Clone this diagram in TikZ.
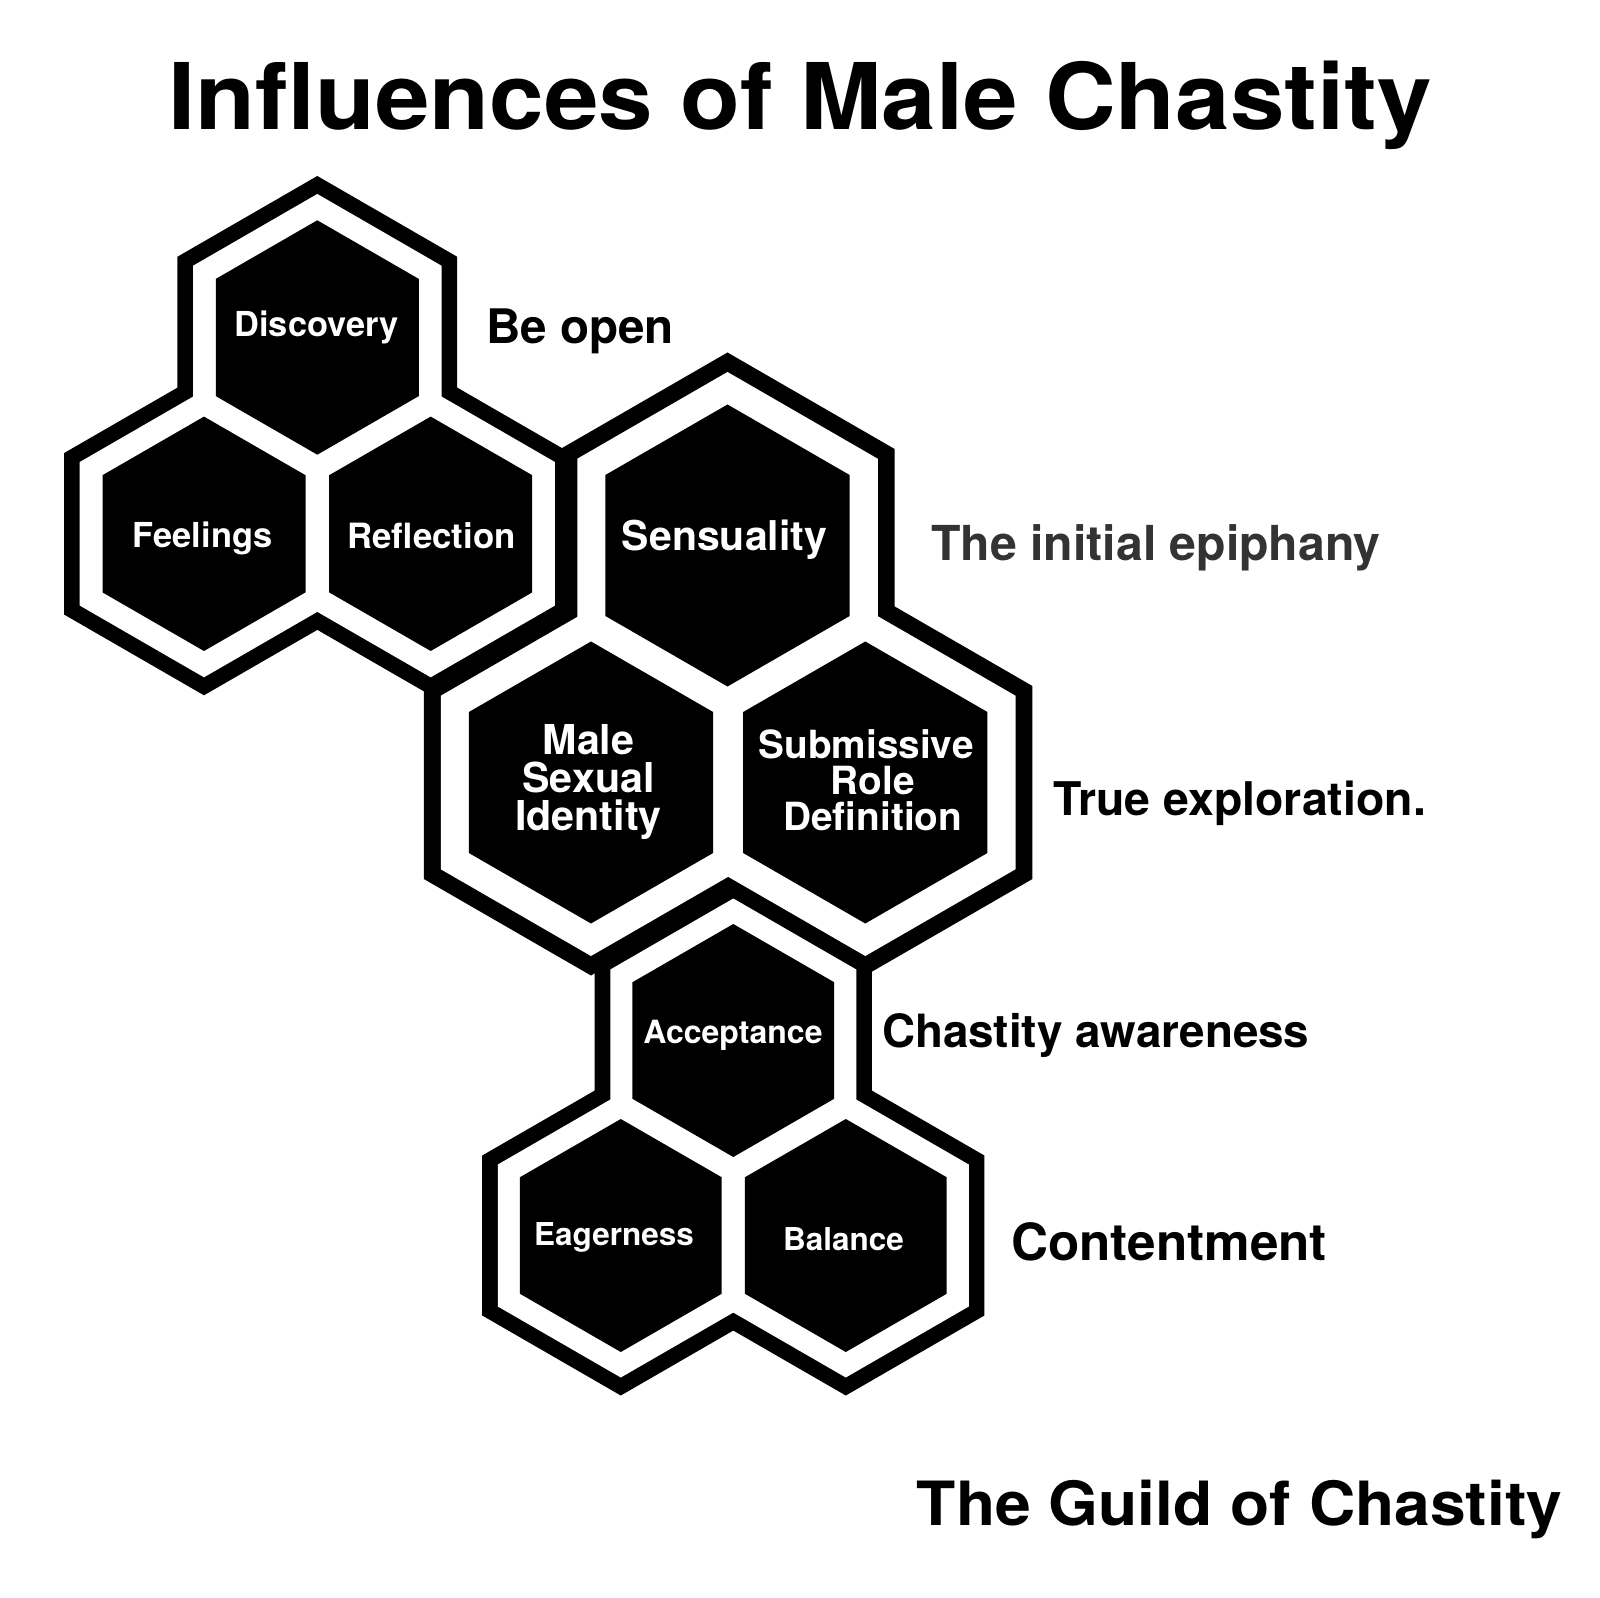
\documentclass[tikz,border=0pt]{standalone}
\usepackage{fontspec}
\setmainfont{TeX Gyre Heros}
\usepackage{tikz}

\newcommand{\hexcell}[3]{\fill[#1, shift={(#2)}] (30:#3) -- (90:#3) -- (150:#3) -- (210:#3) -- (270:#3) -- (330:#3) -- cycle;}
\newcommand{\honeycomb}[6]{%
 \foreach \hx in {#1,#2,#3} {\hexcell{black}{\hx}{#4}}
 \foreach \hx in {#1,#2,#3} {\hexcell{white}{\hx}{#5}}
 \foreach \hx in {#1,#2,#3} {\hexcell{black}{\hx}{#6}}
}

\tikzset{
 cell/.style={text=white, inner sep=0pt, anchor=base},
 side/.style={inner sep=0pt, anchor=base west},
}

\begin{document}
\begin{tikzpicture}[x=0.5pt, y=-0.5pt]
\useasboundingbox (0,0) rectangle (1600,1598);
\coordinate (c-disc) at (317.3,337.5);
\coordinate (c-feel) at (204,533.8);
\coordinate (c-refl) at (430.7,533.8);
\coordinate (c-sens) at (727.5,545.5);
\coordinate (c-male) at (591,782.5);
\coordinate (c-subm) at (865.3,782.5);
\coordinate (c-acce) at (733.3,1040.5);
\coordinate (c-eage) at (620.8,1235.5);
\coordinate (c-bala) at (845.8,1235.5);
 \honeycomb{c-disc}{c-feel}{c-refl}{161.5}{143.5}{117.2}
 \honeycomb{c-sens}{c-male}{c-subm}{193}{173.5}{141}
 \honeycomb{c-acce}{c-eage}{c-bala}{160}{142}{116.5}
 \node[anchor=base, font=\bfseries\fontsize{46}{50}\selectfont] (title) at (800,129.6) {\scalebox{1.065}[1]{Influences of Male Chastity}};
 \node[cell, font=\bfseries\fontsize{17.2}{17.2}\selectfont] (discovery) at (316.5,336.7) {Discovery};
 \node[cell, font=\bfseries\fontsize{17.2}{17.2}\selectfont] (feelings) at (202.5,547.3) {Feelings};
 \node[cell, font=\bfseries\fontsize{17.4}{17.4}\selectfont] (reflection) at (431.5,549) {Reflection};
 \node[cell, font=\bfseries\fontsize{20.5}{20.5}\selectfont] (sensuality) at (724.5,551) {Sensuality};
 \node[cell, anchor=center, align=center, font=\bfseries\fontsize{20.6}{19.2}\selectfont] (identity) at (588.5,782) {Male\\Sexual\\Identity};
 \node[cell, anchor=center, align=center, font=\bfseries\fontsize{19.4}{18}\selectfont] (role) at (866,780.5) {Submissive\\\hspace*{0.35em}Role\\\hspace*{0.35em}Definition};
 \node[cell, font=\bfseries\fontsize{16}{16}\selectfont] (acceptance) at (733,1043) {Acceptance};
 \node[cell, font=\bfseries\fontsize{15.75}{15.75}\selectfont] (eagerness) at (614,1245.3) {Eagerness};
 \node[cell, font=\bfseries\fontsize{15.75}{15.75}\selectfont] (balance) at (843.6,1250.3) {Balance};
 \node[side, font=\bfseries\fontsize{23.8}{23.8}\selectfont] (beopen) at (485.7,344) {Be open};
 \node[side, text=black!80, font=\bfseries\fontsize{24.1}{24.1}\selectfont] (epiphany) at (931,561) {The initial epiphany};
 \node[side, font=\bfseries\fontsize{23.2}{23.2}\selectfont] (exploration) at (1053,815) {True exploration.};
 \node[side, font=\bfseries\fontsize{22.9}{22.9}\selectfont] (awareness) at (881.6,1047.5) {Chastity awareness};
 \node[side, font=\bfseries\fontsize{25.6}{25.6}\selectfont] (contentment) at (1011,1260) {Contentment};
 \node[anchor=base, font=\bfseries\fontsize{30.5}{30.5}\selectfont] (guild) at (1239.5,1525.5) {\scalebox{1.052}[1]{The Guild of Chastity}};
\end{tikzpicture}
\end{document}
